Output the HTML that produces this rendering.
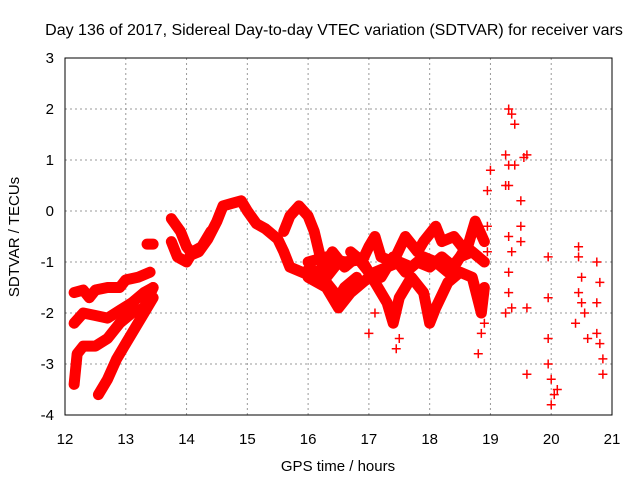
<!DOCTYPE html>
<html><head><meta charset="utf-8"><style>
body{margin:0;background:#fff}
svg{display:block;font-family:"Liberation Sans",sans-serif}
</style></head><body>
<svg id="c" width="640" height="480" viewBox="0 0 640 480">
<text x="334" y="35" text-anchor="middle" font-size="16">Day 136 of 2017, Sidereal Day-to-day VTEC variation (SDTVAR) for receiver vars</text>
<text x="338" y="471" text-anchor="middle" font-size="15">GPS time / hours</text>
<text transform="translate(19,237) rotate(-90)" text-anchor="middle" font-size="15">SDTVAR / TECUs</text>
<g id="grid"></g><g id="marks"></g>
<rect x="65" y="58" width="547" height="357" fill="none" stroke="#000" stroke-width="1"/>
</svg>
<script>
const xTicks=[12,13,14,15,16,17,18,19,20,21];
const yTicks=[-4,-3,-2,-1,0,1,2,3];
const trackA_t=[12.15,12.3,12.4,12.5,12.7,12.9,13.0,13.2,13.4];
const trackA_v=[-1.6,-1.55,-1.7,-1.55,-1.5,-1.5,-1.35,-1.3,-1.2];
const trackB_t=[12.15,12.3,12.5,12.7,12.9,13.1,13.3,13.45];
const trackB_v=[-2.2,-2.0,-2.05,-2.1,-1.95,-1.8,-1.6,-1.5];
const trackC_t=[12.15,12.2,12.3,12.5,12.7,12.9,13.1,13.3,13.45];
const trackC_v=[-3.4,-2.8,-2.65,-2.65,-2.5,-2.2,-2.0,-1.9,-1.5];
const trackD_t=[12.55,12.7,12.85,13.0,13.15,13.3,13.45];
const trackD_v=[-3.6,-3.3,-2.9,-2.6,-2.3,-2.0,-1.7];
const blob_t=[13.35,13.45];
const blob_v=[-0.65,-0.65];
const trackE_t=[13.75,13.9,14.0,14.1,14.2,14.35,14.5,14.6,14.75,14.9,15.0,15.15,15.3,15.5,15.6,15.7,15.9,16.1,16.3,16.5];
const trackE_v=[-0.15,-0.4,-0.7,-0.85,-0.8,-0.55,-0.2,0.1,0.15,0.2,0.0,-0.25,-0.35,-0.55,-0.8,-1.1,-1.2,-1.3,-1.3,-1.0];
const trackE2_t=[13.75,13.85,14.0,14.1,14.25,14.4];
const trackE2_v=[-0.6,-0.9,-1.0,-0.8,-0.7,-0.4];
const trackF_t=[15.6,15.7,15.85,16.0,16.1,16.2,16.3,16.5,16.6,16.8];
const trackF_v=[-0.4,-0.1,0.1,-0.1,-0.4,-0.9,-1.4,-1.7,-1.5,-1.3];
const trackG1_t=[16.0,16.3,16.6,16.9,17.0,17.1,17.2,17.4,17.6,17.8,17.9,18.1,18.2,18.4,18.6,18.75,18.9];
const trackG1_v=[-1.0,-0.9,-1.0,-0.95,-0.7,-0.5,-0.9,-1.0,-0.5,-0.8,-0.6,-0.3,-0.6,-0.5,-0.8,-0.2,-0.6];
const trackG2_t=[16.0,16.3,16.5,16.7,16.9,17.1,17.3,17.5,17.7,17.9,18.1,18.3,18.5,18.7,18.9];
const trackG2_v=[-1.3,-1.5,-1.9,-1.6,-1.4,-1.2,-1.1,-1.0,-1.1,-0.9,-1.0,-1.2,-0.9,-0.8,-1.0];
const trackG3_t=[16.7,16.9,17.1,17.3,17.4,17.5,17.7,17.9,18.0,18.1,18.3,18.5,18.7,18.85,18.9];
const trackG3_v=[-0.8,-1.0,-1.4,-1.8,-2.2,-1.7,-1.3,-1.6,-2.2,-1.9,-1.4,-1.2,-1.3,-2.0,-1.5];
const trackH_t=[16.0,16.2,16.4,16.6,16.8,17.0,17.2,17.4,17.6,17.8,18.0,18.2,18.4,18.6,18.8];
const trackH_v=[-1.15,-1.2,-0.8,-1.1,-0.9,-1.2,-1.3,-0.9,-1.2,-1.0,-1.1,-0.9,-1.1,-0.7,-0.9];
const scatter_t=[19.3,19.35,19.4,19.25,19.3,19.4,19.55,19.6,19.25,19.3,19.5,19.5,19.3,19.35,19.3,19.3,19.35,19.25,19.5,19.6,19.6,19.95,19.95,19.95,19.95,20.0,20.05,20.0,20.1,20.45,20.45,20.5,20.45,20.5,20.55,20.4,20.6,20.75,20.8,20.75,20.75,20.8,20.85,20.85,18.95,18.95,19.0,18.95,17.0,17.1,17.45,17.5,18.8,18.85,18.9];
const scatter_v=[2.0,1.9,1.7,1.1,0.9,0.9,1.05,1.1,0.5,0.5,0.2,-0.3,-0.5,-0.8,-1.2,-1.6,-1.9,-2.0,-0.6,-1.9,-3.2,-0.9,-1.7,-2.5,-3.0,-3.3,-3.6,-3.8,-3.5,-0.7,-0.9,-1.3,-1.6,-1.8,-2.0,-2.2,-2.5,-1.0,-1.4,-1.8,-2.4,-2.6,-2.9,-3.2,-0.3,-0.8,0.8,0.4,-2.4,-2.0,-2.7,-2.5,-2.8,-2.4,-2.2];
const tracks=[[trackA_t,trackA_v],[trackB_t,trackB_v],[trackC_t,trackC_v],[trackD_t,trackD_v],[blob_t,blob_v],[trackE_t,trackE_v],[trackE2_t,trackE2_v],[trackF_t,trackF_v],[trackG1_t,trackG1_v],[trackG2_t,trackG2_v],[trackG3_t,trackG3_v],[trackH_t,trackH_v]];
const NS="http://www.w3.org/2000/svg";
const X=t=>65+(t-12)*547/9;
const Y=v=>415-(v+4)*357/7;
const grid=document.getElementById('grid'),marks=document.getElementById('marks');
function mk(tag,attrs,parent){const e=document.createElementNS(NS,tag);for(const k in attrs)e.setAttribute(k,attrs[k]);parent.appendChild(e);return e;}
xTicks.forEach(t=>{
  if(t>12&&t<21){const g=mk('line',{x1:X(t),x2:X(t),y1:58,y2:415,stroke:'#999','stroke-dasharray':'2,3'},grid);
  
  }
  const l=mk('text',{x:X(t),y:444,'text-anchor':'middle','font-size':15},grid);l.textContent=t;
  
  
});
yTicks.forEach(v=>{
  if(v>-4&&v<3){const g=mk('line',{x1:65,x2:612,y1:Y(v),y2:Y(v),stroke:'#999','stroke-dasharray':'2,3'},grid);
  
  }
  const l=mk('text',{x:54,y:Y(v)+5,'text-anchor':'end','font-size':15},grid);l.textContent=v;
  
  
});
function plus(t,v){const x=X(t),y=Y(v);
  const p=mk('path',{d:`M${x-4.5},${y}H${x+4.5}M${x},${y-4.5}V${y+4.5}`,stroke:'#f00','stroke-width':1.5,fill:'none'},marks);
  
  }
tracks.forEach(([ts,vs])=>{
  const pl=mk('polyline',{points:ts.map((t,i)=>X(t)+','+Y(vs[i])).join(' '),fill:'none',stroke:'#f00','stroke-width':11,'stroke-linejoin':'round','stroke-linecap':'round'},marks);
  
  
  ts.forEach((t,i)=>plus(t,vs[i]));
});
scatter_t.forEach((t,i)=>plus(t,scatter_v[i]));
</script>
</body></html>
